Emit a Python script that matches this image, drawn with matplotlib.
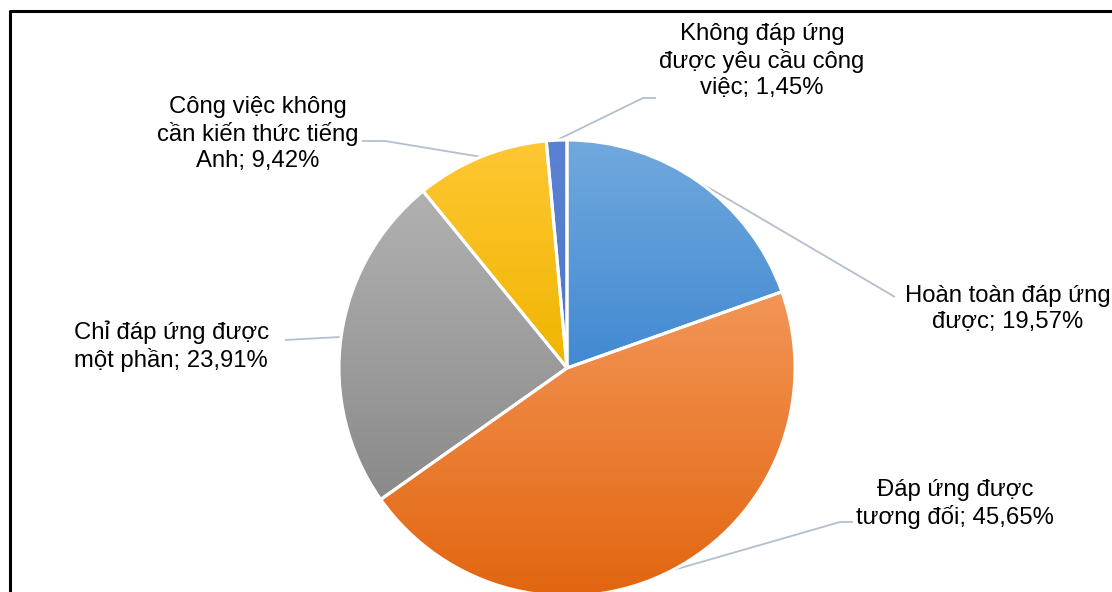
import numpy as np
import matplotlib
matplotlib.use("Agg")
import matplotlib.pyplot as plt
from matplotlib.colors import LinearSegmentedColormap

labels = ["Hoàn toàn đáp ứng\nđược; 19,57%",
          "Đáp ứng được\ntương đối; 45,65%",
          "Chỉ đáp ứng được\nmột phần; 23,91%",
          "Công việc không\ncần kiến thức tiếng\nAnh; 9,42%",
          "Không đáp ứng\nđược yêu cầu công\nviệc; 1,45%"]
values = [19.57, 45.65, 23.91, 9.42, 1.45]
top_colors = ["#71a9dd", "#f39657", "#b1b1b1", "#ffc733", "#5b82d2"]
bottom_colors = ["#4189d2", "#e2650f", "#8a8a8a", "#efb500", "#4f74c8"]

W, H = 1112, 592
fig = plt.figure(figsize=(W / 100, H / 100), dpi=100)
ax = fig.add_axes([0, 0, 1, 1])

cx, cy, R = 567, H - 368, 228
wedges, _ = ax.pie(values, startangle=90, counterclock=False, center=(cx, cy),
                   radius=R, frame=True,
                   wedgeprops=dict(edgecolor="white", linewidth=2.2, zorder=3))
ax.set_xlim(0, W)
ax.set_ylim(0, H)
ax.set_aspect("equal")
ax.axis("off")

grad = np.linspace(0, 1, 256).reshape(-1, 1)
for w, c1, c2 in zip(wedges, top_colors, bottom_colors):
    w.set_facecolor("none")
    bb = w.get_path().get_extents(w.get_patch_transform())
    cmap = LinearSegmentedColormap.from_list("g", [c2, c1])
    im = ax.imshow(grad, cmap=cmap, aspect="auto", origin="lower",
                   extent=[bb.x0, bb.x1, bb.y0, bb.y1], zorder=2,
                   interpolation="bilinear")
    im.set_clip_path(w)
ax.set_xlim(0, W)
ax.set_ylim(0, H)

# leader lines: start at wedge mid-angle on the rim
lc = "#b4bfcc"
ends = [(895, H - 297, None), (840, H - 522, 853), (285, H - 340, None),
        (385, H - 141, 362), (643, H - 98, 656)]
text_pos = [(1008, H - 309), (955, H - 504), (171, H - 346),
            (258, H - 134), (762, H - 61)]
cum = 0
for v, (ex, ey, ex2), lab, (tx, ty) in zip(values, ends, labels, text_pos):
    mid = 90 - (cum + v / 2) * 3.6
    cum += v
    sx = cx + R * np.cos(np.radians(mid))
    sy = cy + R * np.sin(np.radians(mid))
    xs, ys = [sx, ex], [sy, ey]
    if ex2 is not None:
        xs.append(ex2); ys.append(ey)
    ax.plot(xs, ys, color=lc, lw=1.3, zorder=1, solid_capstyle="butt")
    ax.text(tx, ty, lab, ha="center", va="center", fontsize=17.2,
            family="Liberation Sans", color="#000000", linespacing=1.2,
            zorder=5)

# border (left and top)
ax.plot([10, 10, W + 5], [-5, H - 11, H - 11], color="black", lw=2.2,
        zorder=6, clip_on=False)

fig.savefig("out.png", dpi=100)
